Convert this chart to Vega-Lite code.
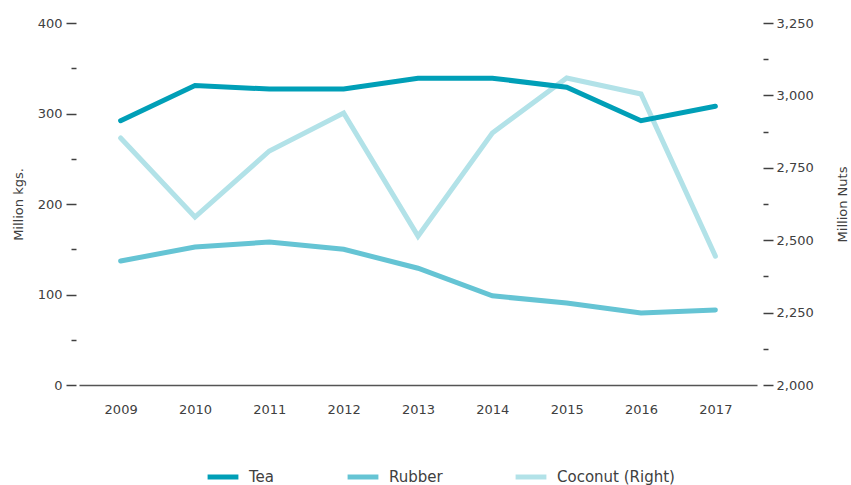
{
  "$schema": "https://vega.github.io/schema/vega-lite/v6.json",
  "width": 678,
  "height": 362,
  "autosize": {"type": "none"},
  "padding": {"left": 79, "top": 23, "right": 94, "bottom": 100},
  "background": "white",
  "config": {
    "font": "DejaVu Sans",
    "view": {"stroke": null},
    "axis": {"labelFont": "DejaVu Sans", "titleFont": "DejaVu Sans", "labelFontSize": 13, "titleFontSize": 13, "labelColor": "#404040", "titleColor": "#404040", "titleFontWeight": "normal", "grid": false},
    "legend": {"labelFont": "DejaVu Sans", "labelFontSize": 15, "labelColor": "#404040"}
  },
  "data": {
    "values": [
      {"year": "2009", "series": "Tea", "value": 292},
      {"year": "2010", "series": "Tea", "value": 331},
      {"year": "2011", "series": "Tea", "value": 327},
      {"year": "2012", "series": "Tea", "value": 327},
      {"year": "2013", "series": "Tea", "value": 339},
      {"year": "2014", "series": "Tea", "value": 339},
      {"year": "2015", "series": "Tea", "value": 329},
      {"year": "2016", "series": "Tea", "value": 292},
      {"year": "2017", "series": "Tea", "value": 308},
      {"year": "2009", "series": "Rubber", "value": 137},
      {"year": "2010", "series": "Rubber", "value": 152.5},
      {"year": "2011", "series": "Rubber", "value": 158},
      {"year": "2012", "series": "Rubber", "value": 150},
      {"year": "2013", "series": "Rubber", "value": 129},
      {"year": "2014", "series": "Rubber", "value": 98.5},
      {"year": "2015", "series": "Rubber", "value": 90.5},
      {"year": "2016", "series": "Rubber", "value": 79.5},
      {"year": "2017", "series": "Rubber", "value": 83},
      {"year": "2009", "series": "Coconut (Right)", "value": 2853},
      {"year": "2010", "series": "Coconut (Right)", "value": 2580},
      {"year": "2011", "series": "Coconut (Right)", "value": 2808},
      {"year": "2012", "series": "Coconut (Right)", "value": 2939},
      {"year": "2013", "series": "Coconut (Right)", "value": 2514},
      {"year": "2014", "series": "Coconut (Right)", "value": 2870},
      {"year": "2015", "series": "Coconut (Right)", "value": 3060},
      {"year": "2016", "series": "Coconut (Right)", "value": 3005},
      {"year": "2017", "series": "Coconut (Right)", "value": 2445}
    ]
  },
  "encoding": {
    "x": {
      "field": "year", "type": "ordinal",
      "scale": {"type": "point", "padding": 0.56},
      "axis": {"title": null, "labelAngle": 0, "ticks": false, "domainColor": "#555555", "domainWidth": 1.5, "labelPadding": 18}
    },
    "color": {
      "field": "series", "type": "nominal",
      "scale": {"domain": ["Tea", "Rubber", "Coconut (Right)"], "range": ["#009fb7", "#65c4d4", "#b2e2e8"]},
      "legend": {"title": null, "orient": "none", "direction": "horizontal", "legendX": 126, "legendY": 436, "symbolType": "stroke", "symbolSize": 950, "symbolStrokeWidth": 5, "columnPadding": 62, "labelOffset": 8}
    }
  },
  "layer": [
    {
      "transform": [{"filter": "datum.series == 'Coconut (Right)'"}],
      "mark": {"type": "line", "strokeWidth": 5, "strokeCap": "round"},
      "encoding": {
        "y": {
          "field": "value", "type": "quantitative",
          "scale": {"domain": [2000, 3250], "nice": false, "zero": false},
          "axis": {
            "orient": "right", "title": "Million Nuts", "titleAngle": 270, "titleX": 79, "titleY": 181, "titleAlign": "center", "titleBaseline": "middle", "domain": false,
            "values": [2000, 2125, 2250, 2375, 2500, 2625, 2750, 2875, 3000, 3125, 3250],
            "labelExpr": "datum.value % 250 == 0 ? format(datum.value, ',') : ''",
            "tickSize": {"condition": {"test": "datum.value % 250 == 0", "value": 10}, "value": 5},
            "tickColor": "#404040", "tickWidth": 1.5, "offset": 6, "labelPadding": 3
          }
        }
      }
    },
    {
      "transform": [{"filter": "datum.series != 'Coconut (Right)'"}],
      "mark": {"type": "line", "strokeWidth": 5, "strokeCap": "round"},
      "encoding": {
        "y": {
          "field": "value", "type": "quantitative",
          "scale": {"domain": [0, 400], "nice": false},
          "axis": {
            "orient": "left", "title": "Million kgs.", "domain": false,
            "values": [0, 50, 100, 150, 200, 250, 300, 350, 400],
            "labelExpr": "datum.value % 100 == 0 ? datum.label : ''",
            "tickSize": {"condition": {"test": "datum.value % 100 == 0", "value": 10}, "value": 5},
            "tickColor": "#404040", "tickWidth": 1.5, "offset": 3, "labelPadding": 4, "titlePadding": 12
          }
        }
      }
    }
  ],
  "resolve": {"scale": {"y": "independent"}}
}
